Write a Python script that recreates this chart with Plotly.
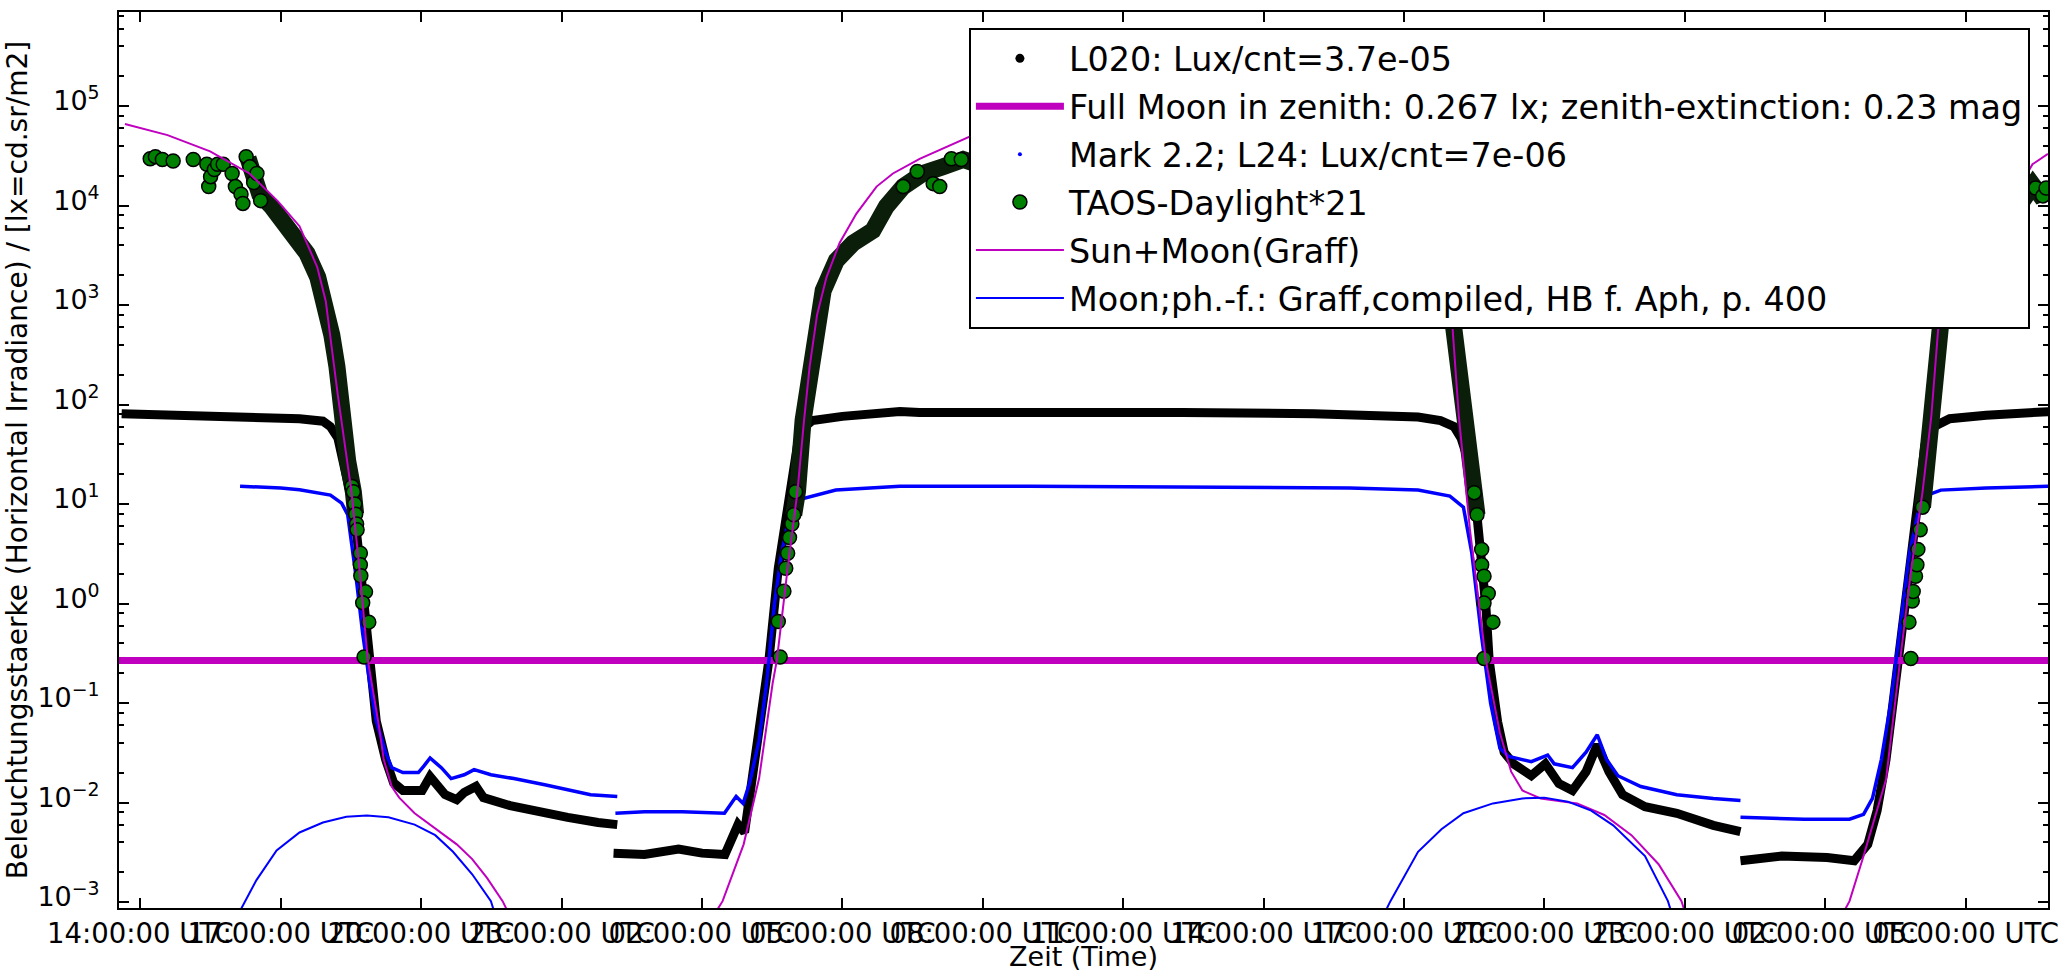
import plotly.graph_objects as go

# ---------------------------------------------------------------------------
# Time axis: hours counted from 00:00 UTC of the first day
# ---------------------------------------------------------------------------
X_START, X_END = 13.543, 54.761
Y_LOG_MIN, Y_LOG_MAX = -3.060, 5.945

tick_hours = [14, 17, 20, 23, 26, 29, 32, 35, 38, 41, 44, 47, 50, 53]
tick_labels = ["14:00:00 UTC", "17:00:00 UTC", "20:00:00 UTC", "23:00:00 UTC",
               "02:00:00 UTC", "05:00:00 UTC", "08:00:00 UTC", "11:00:00 UTC",
               "14:00:00 UTC", "17:00:00 UTC", "20:00:00 UTC", "23:00:00 UTC",
               "02:00:00 UTC", "05:00:00 UTC"]

lux_ticks = [1e-3, 1e-2, 1e-1, 1e0, 1e1, 1e2, 1e3, 1e4, 1e5]
lux_tick_labels = ["10<sup>\u22123</sup>", "10<sup>\u22122</sup>", "10<sup>\u22121</sup>",
                   "10<sup>0</sup>", "10<sup>1</sup>", "10<sup>2</sup>", "10<sup>3</sup>",
                   "10<sup>4</sup>", "10<sup>5</sup>"]

FULL_MOON_LUX = 0.267

# L020 light logger (lux), three recordings
l020_a_h = [13.60, 14.50, 15.50, 16.50, 17.40, 17.90, 18.06, 18.22, 18.34, 18.51,
            18.63, 18.75, 18.84, 18.92, 19.04, 19.24, 19.41, 19.61, 20.02, 20.19,
            20.51, 20.76, 20.92, 21.17, 21.33, 21.90, 22.48, 23.13, 23.78, 24.19]
l020_a_lux = [81, 79, 79, 76, 72, 68, 60, 46, 27, 11.2,
              4.6, 1.32, 0.46, 0.23, 0.066, 0.027, 0.0158, 0.0132, 0.0132, 0.0182,
              0.0120, 0.0107, 0.0126, 0.0145, 0.0112, 0.0093, 0.0081, 0.0071, 0.0063, 0.0060]

l020_b_h = [24.11, 24.77, 25.50, 26.00, 26.49, 26.65, 26.77, 26.91, 27.01, 27.22,
            27.43, 27.63, 27.87, 28.04, 28.20, 28.36, 29.00, 30.23, 30.65, 33.45,
            36.26, 39.07, 39.84, 41.30, 41.78, 42.07, 42.22, 42.40, 42.51, 42.64,
            42.75, 42.82, 43.00, 43.14, 43.34, 43.72, 44.02, 44.31, 44.60, 44.89,
            45.13, 45.38, 45.67, 46.15, 46.83, 47.61, 48.19]
l020_b_lux = [0.0031, 0.0030, 0.0034, 0.0031, 0.0030, 0.0046, 0.0060, 0.0050, 0.0112, 0.066,
              0.27, 2.26, 13.3, 39, 60, 69, 76, 85, 83, 85,
              83, 81, 78, 75, 69, 60, 46, 25, 13.2, 3.5,
              0.93, 0.27, 0.065, 0.032, 0.0245, 0.0186, 0.0245, 0.0155, 0.0132, 0.0204,
              0.038, 0.0204, 0.0120, 0.0091, 0.0078, 0.0059, 0.0051]

l020_c_h = [48.19, 49.07, 50.04, 50.62, 50.91, 51.11, 51.30, 51.49, 51.64, 51.79,
            51.98, 52.13, 52.32, 52.66, 53.44, 54.80]
l020_c_lux = [0.0026, 0.0029, 0.0028, 0.0026, 0.0038, 0.0083, 0.027, 0.158, 0.59, 2.24,
              13.2, 39, 60, 72, 78, 85]

# Mark 2.2 / L24 meter (lux)
mark_a_h = [16.13, 17.00, 17.40, 18.06, 18.30, 18.43, 18.60, 18.75, 18.90, 19.04,
            19.24, 19.37, 19.61, 19.94, 20.06, 20.19, 20.43, 20.64, 20.92, 21.13,
            21.49, 21.98, 22.64, 23.21, 23.62, 24.19]
mark_a_lux = [15.1, 14.5, 13.9, 12.3, 10.2, 7.8, 2.0, 0.5, 0.16, 0.066,
              0.032, 0.0224, 0.020, 0.020, 0.0234, 0.028, 0.0224, 0.0174, 0.019, 0.0214,
              0.019, 0.0174, 0.0151, 0.0132, 0.012, 0.0115]

mark_b_h = [24.15, 24.77, 25.58, 26.48, 26.65, 26.73, 26.88, 27.02, 27.22, 27.38,
            27.55, 27.70, 27.90, 28.12, 28.86, 30.23, 33.00, 36.00, 39.00, 39.84,
            41.30, 41.98, 42.27, 42.45, 42.65, 42.85, 43.05, 43.24, 43.72, 44.07,
            44.21, 44.60, 44.89, 45.13, 45.33, 45.57, 46.06, 46.83, 47.61, 48.19]
mark_b_lux = [0.0078, 0.0081, 0.0081, 0.0078, 0.0102, 0.0115, 0.0098, 0.0158, 0.042, 0.158,
              1.0, 3.2, 8.9, 11.2, 13.8, 15.1, 15.1, 14.8, 14.5, 14.5,
              13.8, 12.0, 9.3, 3.2, 0.5, 0.1, 0.035, 0.029, 0.0257, 0.030,
              0.0245, 0.0224, 0.032, 0.048, 0.027, 0.0186, 0.0145, 0.012, 0.011, 0.0105]

mark_c_h = [48.19, 49.55, 50.52, 50.82, 51.01, 51.20, 51.40, 51.60, 51.80, 52.00,
            52.17, 52.47, 53.44, 54.80]
mark_c_lux = [0.0071, 0.0068, 0.0068, 0.0076, 0.011, 0.027, 0.10, 0.6, 3.2, 8.9,
              12.2, 13.8, 14.5, 15.1]

# TAOS daylight sensor (x21), individual readings
taos_h = [14.21, 14.32, 14.47, 14.70, 15.13, 15.42, 15.46, 15.50, 15.58, 15.65,
          15.77, 15.96, 16.03, 16.15, 16.19, 16.26, 16.34, 16.42, 16.49, 16.57,
          18.52, 18.55, 18.58, 18.60, 18.62, 18.63, 18.70, 18.70, 18.71, 18.81,
          18.75, 18.88, 18.78,
          27.67, 27.63, 27.75, 27.79, 27.83, 27.87, 27.92, 27.96, 28.00,
          30.30, 30.60, 30.94, 31.08, 31.33, 31.54,
          42.50, 42.56, 42.66, 42.66, 42.71, 42.80, 42.71, 42.90, 42.71,
          51.83, 51.79, 51.86, 51.88, 51.93, 51.96, 51.98, 52.03, 52.08,
          54.50, 54.65, 54.72]
taos_lux = [2.95e4, 3.1e4, 2.9e4, 2.8e4, 2.9e4, 2.6e4, 1.55e4, 1.95e4, 2.3e4, 2.6e4,
            2.6e4, 2.1e4, 1.55e4, 1.3e4, 1.05e4, 3.1e4, 2.45e4, 1.7e4, 2.1e4, 1.12e4,
            15, 13.3, 10, 7.9, 6.3, 5.5, 3.2, 2.45, 1.9, 1.31,
            1.02, 0.65, 0.29,
            0.29, 0.66, 1.33, 2.26, 3.2, 4.6, 6.3, 7.8, 13.3,
            1.55e4, 2.2e4, 1.66e4, 1.55e4, 2.95e4, 2.9e4,
            13, 7.8, 3.5, 2.45, 1.88, 1.26, 1.01, 0.65, 0.28,
            0.28, 0.65, 1.06, 1.32, 1.88, 2.45, 3.5, 5.5, 9.3,
            1.5e4, 1.25e4, 1.5e4]

# TAOS dense stretches (readings packed edge to edge)
taos_dense_a_h = [16.30, 16.55, 16.80, 17.02, 17.29, 17.56, 17.79, 17.94, 18.09, 18.20,
                  18.30, 18.43, 18.55, 18.60]
taos_dense_a_lux = [3.0e4, 1.3e4, 9.8e3, 7.1e3, 5.2e3, 3.3e3, 1.9e3, 1.1e3, 500, 240,
                    78, 27, 13.3, 7.9]
taos_dense_b_h = [27.96, 28.04, 28.16, 28.23, 28.37, 28.59, 28.87, 29.23, 29.65, 29.94,
                  30.30, 30.72, 31.15, 31.58, 42.05, 42.32, 42.51, 42.56]
taos_dense_b_lux = [7.8, 13.3, 69, 110, 510, 1400, 2800, 4200, 5600, 9800,
                    1.55e4, 2.1e4, 2.45e4, 2.9e4, 660, 78, 13.2, 7.8]
taos_dense_c_h = [52.08, 52.17, 52.37, 52.47, 54.44, 54.58, 54.76]
taos_dense_c_lux = [9.3, 32, 190, 660, 1.6e4, 1.3e4, 1.4e4]

# Sun + Moon model (Graff)
sunmoon_a_h = [13.67, 14.58, 15.49, 16.33, 16.94, 17.40, 17.78, 17.96, 18.22, 18.51,
               18.68, 18.86, 19.08, 19.20, 19.37, 19.53, 19.86, 20.19, 20.43, 20.76,
               21.09, 21.41, 21.74, 21.85]
sunmoon_a_lux = [6.6e4, 5.1e4, 3.5e4, 2.1e4, 1.1e4, 6.2e3, 2.4e3, 1.1e3, 123, 13.3,
                 2.26, 0.27, 0.066, 0.027, 0.0145, 0.0112, 0.0078, 0.0060, 0.0050, 0.0038,
                 0.0027, 0.00174, 0.00102, 0.0008]
sunmoon_b_h = [26.30, 26.44, 26.89, 27.22, 27.51, 27.60, 27.83, 28.04, 28.18, 28.30,
               28.46, 28.66, 28.94, 29.30, 29.73, 30.08, 30.65, 31.22, 31.71, 42.03,
               42.17, 42.41, 42.75, 43.05, 43.29, 43.53, 43.92, 44.70, 45.28, 45.86,
               46.44, 46.93, 47.00]
sunmoon_b_lux = [0.0008, 0.00102, 0.0038, 0.0174, 0.158, 0.27, 2.26, 13.3, 69, 240,
                 800, 1900, 4200, 8300, 1.55e4, 2.1e4, 2.95e4, 3.9e4, 4.9e4, 660,
                 78, 5.5, 0.267, 0.050, 0.0204, 0.0132, 0.011, 0.0098, 0.0075, 0.0047,
                 0.0024, 0.00102, 0.0008]
sunmoon_c_h = [50.40, 50.52, 50.82, 51.30, 51.60, 51.84, 52.08, 52.27, 52.42, 54.43, 54.76]
sunmoon_c_lux = [0.0008, 0.00102, 0.0029, 0.017, 0.267, 2.24, 13.2, 78, 620, 2.6e4, 3.3e4]

# Moon alone, phase function after Graff
moon_a_h = [16.12, 16.48, 16.91, 17.40, 17.90, 18.40, 18.84, 19.30, 19.86, 20.30,
            20.68, 21.09, 21.49, 21.56]
moon_a_lux = [0.0008, 0.00166, 0.0033, 0.0050, 0.0063, 0.0072, 0.0074, 0.0071, 0.0060, 0.0047,
              0.0032, 0.0019, 0.00102, 0.0008]
moon_b_h = [40.60, 40.71, 41.30, 41.80, 42.27, 42.90, 43.53, 44.00, 44.50, 45.00,
            45.47, 46.15, 46.64, 46.71]
moon_b_lux = [0.0008, 0.00102, 0.0032, 0.0054, 0.0078, 0.0098, 0.011, 0.0112, 0.0102, 0.0083,
              0.0059, 0.0029, 0.00102, 0.0008]


def join(*parts):
    """Concatenate segments with None so the line breaks between recordings."""
    out = []
    for i, p in enumerate(parts):
        if i:
            out.append(None)
        out.extend(p)
    return out


MAGENTA = "#bf00bf"
BLUE = "#0000ff"
GREEN = "#008000"
FONT = "DejaVu Sans"

fig = go.Figure()

# L020: legend entry + dense readings
fig.add_trace(go.Scatter(x=[None], y=[None], mode="markers", name="L020: Lux/cnt=3.7e-05",
                         marker=dict(color="black", size=9), legendgroup="a"))
fig.add_trace(go.Scatter(x=join(l020_a_h, l020_b_h, l020_c_h),
                         y=join(l020_a_lux, l020_b_lux, l020_c_lux),
                         mode="lines", line=dict(color="black", width=9),
                         showlegend=False, legendgroup="a"))

# Full moon reference level
fig.add_trace(go.Scatter(x=[X_START, X_END], y=[FULL_MOON_LUX, FULL_MOON_LUX], mode="lines",
                         name="Full Moon in zenith: 0.267 lx; zenith-extinction: 0.23 mag",
                         line=dict(color=MAGENTA, width=7), legendgroup="b"))

# Mark 2.2
fig.add_trace(go.Scatter(x=[None], y=[None], mode="markers", name="Mark 2.2; L24: Lux/cnt=7e-06",
                         marker=dict(color=BLUE, size=4), legendgroup="c"))
fig.add_trace(go.Scatter(x=join(mark_a_h, mark_b_h, mark_c_h),
                         y=join(mark_a_lux, mark_b_lux, mark_c_lux),
                         mode="lines", line=dict(color=BLUE, width=3.5),
                         showlegend=False, legendgroup="c"))

# TAOS daylight
fig.add_trace(go.Scatter(x=join(taos_dense_a_h, taos_dense_b_h, taos_dense_c_h),
                         y=join(taos_dense_a_lux, taos_dense_b_lux, taos_dense_c_lux),
                         mode="lines", line=dict(color="#0a1e0a", width=17),
                         showlegend=False, legendgroup="d"))
fig.add_trace(go.Scatter(x=taos_h, y=taos_lux, mode="markers", name="TAOS-Daylight*21",
                         marker=dict(color=GREEN, size=14, line=dict(color="black", width=1.5)),
                         legendgroup="d"))

# Models
fig.add_trace(go.Scatter(x=join(sunmoon_a_h, sunmoon_b_h, sunmoon_c_h),
                         y=join(sunmoon_a_lux, sunmoon_b_lux, sunmoon_c_lux),
                         mode="lines", name="Sun+Moon(Graff)",
                         line=dict(color=MAGENTA, width=2), legendgroup="e"))
fig.add_trace(go.Scatter(x=join(moon_a_h, moon_b_h), y=join(moon_a_lux, moon_b_lux),
                         mode="lines", name="Moon;ph.-f.: Graff,compiled, HB f. Aph, p. 400",
                         line=dict(color=BLUE, width=2), legendgroup="f"))

minor_vals = [m * 10.0 ** k for k in range(-4, 7) for m in (2, 4, 6, 8)]

fig.update_layout(
    width=2060, height=972,
    margin=dict(l=119, r=12, t=12, b=64),
    paper_bgcolor="white", plot_bgcolor="white",
    font=dict(family=FONT, size=27, color="black"),
    legend=dict(x=0.4406, y=0.982, xanchor="left", yanchor="top",
                bgcolor="white", bordercolor="black", borderwidth=2,
                font=dict(family=FONT, size=33.4, color="black"),
                itemwidth=88, traceorder="grouped", tracegroupgap=1.5),
    xaxis=dict(range=[X_START, X_END], tickmode="array", tickvals=tick_hours,
               ticktext=tick_labels, tickangle=0, ticks="inside", ticklen=10,
               tickwidth=1.5, tickcolor="black", showline=True, linecolor="black",
               linewidth=2, mirror="ticks", showgrid=False, zeroline=False,
               automargin=False, tickfont=dict(family=FONT, size=27.5),
               title=dict(text="Zeit (Time)", font=dict(family=FONT, size=27), standoff=0)),
    yaxis=dict(type="log", range=[Y_LOG_MIN, Y_LOG_MAX],
               tickmode="array", tickvals=lux_ticks, ticktext=lux_tick_labels,
               ticks="inside", ticklen=10, tickwidth=1.5, tickcolor="black",
               ticklabelstandoff=12, ticklabelshift=-5,
               minor=dict(ticks="inside", ticklen=5, tickwidth=1.5, tickcolor="black",
                          tickvals=minor_vals, showgrid=False),
               showline=True, linecolor="black", linewidth=2, mirror="ticks",
               showgrid=False, zeroline=False, automargin=False,
               tickfont=dict(family=FONT, size=27),
               title=dict(text="Beleuchtungsstaerke (Horizontal Irradiance) / [lx=cd.sr/m2]",
                          font=dict(family=FONT, size=28), standoff=2)),
)

fig.write_html("out.html", config={"displayModeBar": False})
